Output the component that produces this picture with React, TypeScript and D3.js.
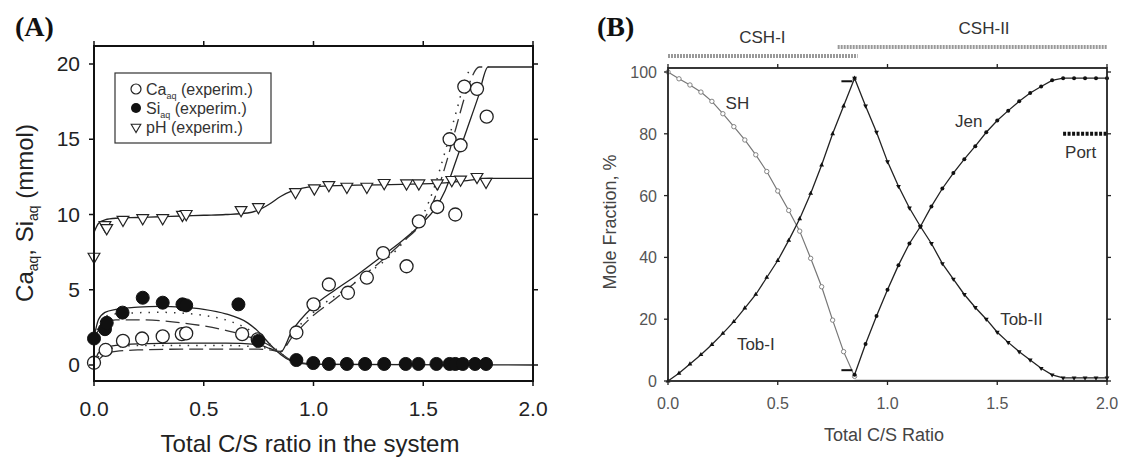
import React from "react";
import * as d3 from "d3";

// ---------------- Panel A data ----------------
const caX = [0, 0.053, 0.132, 0.219, 0.313, 0.40, 0.42, 0.675, 0.746, 0.922, 1.0, 1.07, 1.157, 1.243, 1.317, 1.424, 1.48, 1.564, 1.62, 1.646, 1.67, 1.687, 1.745, 1.789];
const caY = [0.15, 1.0, 1.6, 1.76, 1.9, 2.05, 2.1, 2.05, 1.7, 2.16, 4.03, 5.35, 4.8, 5.8, 7.44, 6.56, 9.54, 10.5, 15.0, 10.0, 14.6, 18.5, 18.35, 16.5];

const siX = [0, 0.05, 0.058, 0.13, 0.222, 0.313, 0.403, 0.42, 0.658, 0.749, 0.922, 0.999, 1.07, 1.152, 1.235, 1.322, 1.42, 1.478, 1.56, 1.62, 1.646, 1.68, 1.736, 1.786];
const siY = [1.76, 2.38, 2.8, 3.48, 4.47, 4.14, 4.03, 3.96, 4.03, 1.6, 0.33, 0.13, 0.07, 0.07, 0.07, 0.07, 0.07, 0.07, 0.07, 0.07, 0.07, 0.07, 0.07, 0.07];

const phX = [0, 0.05, 0.058, 0.132, 0.222, 0.313, 0.403, 0.42, 0.67, 0.749, 0.918, 1.004, 1.07, 1.152, 1.243, 1.322, 1.424, 1.48, 1.564, 1.63, 1.67, 1.745, 1.786];
const phY = [7.2, 9.3, 9.1, 9.65, 9.76, 9.76, 9.98, 10.04, 10.3, 10.5, 11.5, 11.74, 11.96, 11.85, 11.85, 12.1, 12.07, 12.07, 12.07, 12.3, 12.33, 12.5, 12.18];

// model curves (panel A)
const phModelX = [0, 0.02, 0.05, 0.1, 0.2, 0.3, 0.4, 0.5, 0.6, 0.7, 0.75, 0.8, 0.85, 0.9, 0.95, 1.0, 1.2, 1.4, 1.6, 1.7, 1.8, 2.0];
const phModelY = [8.8, 9.4, 9.65, 9.75, 9.8, 9.85, 9.9, 9.95, 10.0, 10.1, 10.3, 10.7, 11.2, 11.55, 11.75, 11.85, 11.95, 12.0, 12.1, 12.25, 12.4, 12.4];

const siSolidX = [0, 0.02, 0.05, 0.1, 0.2, 0.3, 0.4, 0.5, 0.6, 0.7, 0.75, 0.8, 0.85, 0.9, 0.95, 1.0, 2.0];
const siSolidY = [1.8, 3.0, 3.5, 3.7, 3.85, 3.9, 3.85, 3.7, 3.4, 2.8, 2.2, 1.4, 0.7, 0.25, 0.1, 0.05, 0.0];
const siDotX = [0, 0.05, 0.1, 0.3, 0.5, 0.6, 0.7, 0.8, 0.85, 0.9, 1.0];
const siDotY = [1.8, 3.2, 3.4, 3.5, 3.3, 3.0, 2.4, 1.4, 0.8, 0.3, 0.05];
const siDashX = [0, 0.05, 0.1, 0.2, 0.4, 0.6, 0.7, 0.8, 0.85, 0.9, 1.0];
const siDashY = [1.8, 2.8, 3.0, 3.0, 2.8, 2.3, 1.9, 1.3, 0.8, 0.3, 0.05];

const caSolidX = [0, 0.02, 0.05, 0.1, 0.2, 0.4, 0.6, 0.75, 0.8, 0.85, 0.9, 1.0, 1.1, 1.2, 1.3, 1.4, 1.5, 1.55, 1.6, 1.65, 1.7, 1.75, 1.795, 2.0];
const caSolidY = [0, 0.8, 1.1, 1.3, 1.4, 1.45, 1.45, 1.35, 1.1, 0.85, 2.2, 3.9, 5.0, 6.0, 7.1, 8.2, 9.5, 10.3, 11.6, 13.6, 15.7, 17.8, 19.8, 19.8];
const caDashX = [0, 0.05, 0.1, 0.2, 0.4, 0.6, 0.75, 0.8, 0.85, 0.9, 1.0, 1.1, 1.2, 1.3, 1.4, 1.5, 1.55, 1.6, 1.65, 1.7, 1.755, 1.8];
const caDashY = [0, 0.7, 0.9, 1.0, 1.05, 1.05, 1.05, 1.0, 0.9, 1.8, 3.3, 4.4, 5.6, 6.8, 8.1, 9.6, 11.0, 13.2, 15.8, 18.3, 19.8, 19.8];
const caDotX = [0, 0.05, 0.2, 0.6, 0.8, 0.85, 0.9, 1.0, 1.2, 1.4, 1.5, 1.55, 1.6, 1.65, 1.7, 1.725];
const caDotY = [0, 1.0, 1.3, 1.3, 1.1, 0.9, 2.0, 3.5, 5.6, 8.0, 10.0, 11.8, 14.2, 16.8, 19.3, 19.8];

const xTicksA = [0, 0.5, 1.0, 1.5, 2.0];
const yTicksA = [0, 5, 10, 15, 20];

// ---------------- Panel B data ----------------
const xLeft = [0, 0.05, 0.1, 0.15, 0.2, 0.25, 0.3, 0.35, 0.4, 0.45, 0.5, 0.55, 0.6, 0.65, 0.7, 0.75, 0.8, 0.85];
const shY = [100, 97.8, 95.8, 93.5, 90.5, 86.5, 82.3, 78.0, 73.2, 67.8, 61.5, 55.2, 48.5, 39.7, 30.5, 19.7, 9.5, 1.5];
const tobIY = [0, 2.5, 5.5, 8.5, 11.8, 15.4, 19.2, 23.6, 28, 33.5, 39, 45.5, 52.5, 60.7, 69.9, 80, 89, 98];
const xRight = [0.85, 0.9, 0.95, 1.0, 1.05, 1.1, 1.15, 1.2, 1.25, 1.3, 1.35, 1.4, 1.45, 1.5, 1.55, 1.6, 1.65, 1.7, 1.75, 1.8, 1.85, 1.9, 1.95, 2.0];
const tobIIY = [98, 89, 80.5, 71, 63, 56, 50, 44.5, 38, 33, 28, 23.8, 20, 15.8, 12.5, 9.5, 6.8, 4.1, 2, 1, 1, 1, 1, 1];
const jenY = [2, 12, 21, 29.5, 37.5, 44.5, 50, 56.5, 62.3, 67.3, 71.8, 76, 80.5, 84.3, 87.5, 90.5, 93.2, 95.3, 97.3, 98, 98, 98, 98, 98];
const portX = [1.8, 1.85, 1.9, 1.95, 2.0];
const portY = [80, 80, 80, 80, 80];
const xTicksB = [0, 0.5, 1.0, 1.5, 2.0];
const yTicksB = [0, 20, 40, 60, 80, 100];
const phaseNames = ["CSH-I", "CSH-II"];
const phaseStart = [0, 0.773];
const phaseEnd = [0.864, 2.0];
const phaseLevel = [105.2, 108.1];
const phaseLabelX = [0.43, 1.44];
const phaseLabelLevel = [109.5, 112.2];

const curveLabels = ["SH", "Jen", "Tob-I", "Tob-II", "Port"];
const curveLabelX = [0.316, 1.37, 0.40, 1.61, 1.88];
const curveLabelY = [90, 84, 12, 20, 74];

const FONT = "Liberation Sans, Arial, sans-serif";

function zip(xs: number[], ys: number[]): [number, number][] {
  return xs.map((x, i) => [x, ys[i]]);
}

export default function App() {
  // Panel A scales
  const xA = d3.scaleLinear().domain([0, 2]).range([94, 533]);
  const yA = d3.scaleLinear().domain([0, 20]).range([365, 64]);
  const A = { left: 94, right: 533, top: 46, bottom: 381 };
  const lineA = d3.line<[number, number]>().x((d) => xA(d[0])).y((d) => yA(d[1])).curve(d3.curveMonotoneX);

  // Panel B scales
  const xB = d3.scaleLinear().domain([0, 2]).range([668, 1107]);
  const yB = d3.scaleLinear().domain([0, 100]).range([381, 72]);
  const B = { left: 668, right: 1107, top: 68, bottom: 381 };
  const lineB = d3.line<[number, number]>().x((d) => xB(d[0])).y((d) => yB(d[1]));

  const triDown = d3.symbol().type(d3.symbolTriangle).size(60)();
  const triSmall = d3.symbol().type(d3.symbolTriangle).size(10)();

  return (
    <svg width={1126} height={462} style={{ position: "absolute", left: 0, top: 0, background: "#fff" }}>
      <rect x={0} y={0} width={1126} height={462} fill="#fff" />
      {/* ================= PANEL A ================= */}
      <text x={15} y={36} fontFamily="Liberation Serif, Times New Roman, serif" fontWeight="bold" fontSize={28} fill="#111">(A)</text>

      {/* model curves */}
      <path d={lineA(zip(phModelX, phModelY)) || ""} fill="none" stroke="#222" strokeWidth={1.3} />
      <path d={lineA(zip(siSolidX, siSolidY)) || ""} fill="none" stroke="#222" strokeWidth={1.3} />
      <path d={lineA(zip(siDotX, siDotY)) || ""} fill="none" stroke="#333" strokeWidth={1.5} strokeDasharray="1.5,7" />
      <path d={lineA(zip(siDashX, siDashY)) || ""} fill="none" stroke="#333" strokeWidth={1.3} strokeDasharray="14,6" />
      <path d={lineA(zip(caSolidX, caSolidY)) || ""} fill="none" stroke="#222" strokeWidth={1.3} />
      <path d={lineA(zip(caDashX, caDashY)) || ""} fill="none" stroke="#333" strokeWidth={1.3} strokeDasharray="14,6" />
      <path d={lineA(zip(caDotX, caDotY)) || ""} fill="none" stroke="#333" strokeWidth={1.5} strokeDasharray="1.5,7" />

      {/* experimental points */}
      {phX.map((x, i) => (
        <path key={"ph" + i} d={triDown || ""} transform={`translate(${xA(x)},${yA(phY[i])}) rotate(180)`} fill="#fff" stroke="#222" strokeWidth={1.2} />
      ))}
      {caX.map((x, i) => (
        <circle key={"ca" + i} cx={xA(x)} cy={yA(caY[i])} r={6.5} fill="#fff" stroke="#222" strokeWidth={1.3} />
      ))}
      {siX.map((x, i) => (
        <circle key={"si" + i} cx={xA(x)} cy={yA(siY[i])} r={6.5} fill="#111" stroke="#111" strokeWidth={1} />
      ))}

      {/* frame */}
      <rect x={A.left} y={A.top} width={A.right - A.left} height={A.bottom - A.top} fill="none" stroke="#111" strokeWidth={2} />
      {xTicksA.map((t, i) => (
        <g key={"xta" + i}>
          <line x1={xA(t)} x2={xA(t)} y1={A.bottom} y2={A.bottom + 5} stroke="#111" strokeWidth={1.5} />
          <line x1={xA(t)} x2={xA(t)} y1={A.top} y2={A.top - 5} stroke="#111" strokeWidth={1.5} />
          <text x={xA(t)} y={416} textAnchor="middle" fontFamily={FONT} fontSize={21} fill="#222">{t.toFixed(1)}</text>
        </g>
      ))}
      {yTicksA.map((t, i) => (
        <g key={"yta" + i}>
          <line x1={A.left} x2={A.left - 5} y1={yA(t)} y2={yA(t)} stroke="#111" strokeWidth={1.5} />
          <line x1={A.right} x2={A.right + 5} y1={yA(t)} y2={yA(t)} stroke="#111" strokeWidth={1.5} />
          <text x={80} y={yA(t) + 7} textAnchor="end" fontFamily={FONT} fontSize={21} fill="#222">{t}</text>
        </g>
      ))}
      <text x={310} y={452} textAnchor="middle" fontFamily={FONT} fontSize={24} fill="#222">Total C/S ratio in the system</text>
      <text transform="translate(33,213) rotate(-90)" textAnchor="middle" fontFamily={FONT} fontSize={24} fill="#222">
        Ca<tspan fontSize={14} dy={5}>aq</tspan><tspan dy={-5}>, Si</tspan><tspan fontSize={14} dy={5}>aq</tspan><tspan dy={-5}> (mmol)</tspan>
      </text>

      {/* legend */}
      <rect x={115} y={73} width={156} height={70} fill="#fff" stroke="#333" strokeWidth={1.2} />
      <circle cx={136} cy={89} r={5} fill="#fff" stroke="#222" strokeWidth={1.2} />
      <circle cx={136} cy={108} r={5} fill="#111" />
      <path d={d3.symbol().type(d3.symbolTriangle).size(40)() || ""} transform="translate(136,127) rotate(180)" fill="#fff" stroke="#222" strokeWidth={1.1} />
      <text x={146} y={95} fontFamily={FONT} fontSize={16} fill="#333">Ca<tspan fontSize={9} dy={4}>aq</tspan><tspan dy={-4}> (experim.)</tspan></text>
      <text x={146} y={114} fontFamily={FONT} fontSize={16} fill="#333">Si<tspan fontSize={9} dy={4}>aq</tspan><tspan dy={-4}> (experim.)</tspan></text>
      <text x={146} y={133} fontFamily={FONT} fontSize={16} fill="#333">pH (experim.)</text>

      {/* ================= PANEL B ================= */}
      <text x={597} y={36} fontFamily="Liberation Serif, Times New Roman, serif" fontWeight="bold" fontSize={28} fill="#111">(B)</text>

      {phaseNames.map((n, i) => (
        <g key={"ph" + n}>
          <line x1={xB(phaseStart[i])} x2={xB(phaseEnd[i])} y1={yB(phaseLevel[i])} y2={yB(phaseLevel[i])} stroke="#999" strokeWidth={4} strokeDasharray="2,1" />
          <text x={xB(phaseLabelX[i])} y={yB(phaseLabelLevel[i])} textAnchor="middle" fontFamily={FONT} fontSize={17} fill="#333">{n}</text>
        </g>
      ))}

      {/* curves */}
      <path d={lineB(zip(xLeft, shY)) || ""} fill="none" stroke="#777" strokeWidth={1.2} />
      <line x1={xB(0.85)} x2={xB(2)} y1={yB(0.3)} y2={yB(0.3)} stroke="#aaa" strokeWidth={1} />
      <path d={lineB(zip(xLeft, tobIY)) || ""} fill="none" stroke="#222" strokeWidth={1.3} />
      <path d={lineB(zip(xRight, tobIIY)) || ""} fill="none" stroke="#222" strokeWidth={1.3} />
      <path d={lineB(zip(xRight, jenY)) || ""} fill="none" stroke="#222" strokeWidth={1.3} />
      <path d={lineB(zip(portX, portY)) || ""} fill="none" stroke="#111" strokeWidth={4} strokeDasharray="3,1.5" />
      {/* small step stubs near 0.8 */}
      <line x1={xB(0.79)} x2={xB(0.84)} y1={yB(97)} y2={yB(97)} stroke="#111" strokeWidth={2} />
      <line x1={xB(0.79)} x2={xB(0.84)} y1={yB(3.5)} y2={yB(3.5)} stroke="#111" strokeWidth={2} />

      {xLeft.map((x, i) => (
        <circle key={"sh" + i} cx={xB(x)} cy={yB(shY[i])} r={2.2} fill="#fff" stroke="#777" strokeWidth={0.9} />
      ))}
      {xLeft.map((x, i) => (
        <path key={"t1" + i} d={triSmall || ""} transform={`translate(${xB(x)},${yB(tobIY[i])})`} fill="#111" />
      ))}
      {xRight.map((x, i) => (
        <path key={"t2" + i} d={triSmall || ""} transform={`translate(${xB(x)},${yB(tobIIY[i])}) rotate(180)`} fill="#111" />
      ))}
      {xRight.map((x, i) => (
        <circle key={"jn" + i} cx={xB(x)} cy={yB(jenY[i])} r={2} fill="#111" />
      ))}

      {/* frame */}
      <rect x={B.left} y={B.top} width={B.right - B.left} height={B.bottom - B.top} fill="none" stroke="#222" strokeWidth={1.8} />
      {xTicksB.map((t, i) => (
        <g key={"xtb" + i}>
          <line x1={xB(t)} x2={xB(t)} y1={B.bottom} y2={B.bottom + 4} stroke="#222" strokeWidth={1.3} />
          <line x1={xB(t)} x2={xB(t)} y1={B.top} y2={B.top - 4} stroke="#222" strokeWidth={1.3} />
          <text x={xB(t)} y={409} textAnchor="middle" fontFamily={FONT} fontSize={16} fill="#555">{t.toFixed(1)}</text>
        </g>
      ))}
      {yTicksB.map((t, i) => (
        <g key={"ytb" + i}>
          <line x1={B.left} x2={B.left - 4} y1={yB(t)} y2={yB(t)} stroke="#222" strokeWidth={1.3} />
          <line x1={B.right} x2={B.right + 4} y1={yB(t)} y2={yB(t)} stroke="#222" strokeWidth={1.3} />
          <text x={657} y={yB(t) + 6} textAnchor="end" fontFamily={FONT} fontSize={16} fill="#555">{t}</text>
        </g>
      ))}
      {curveLabels.map((l, i) => (
        <text key={"cl" + l} x={xB(curveLabelX[i])} y={yB(curveLabelY[i]) + 6} textAnchor="middle" fontFamily={FONT} fontSize={17} fill="#333">{l}</text>
      ))}
      <text x={884} y={441} textAnchor="middle" fontFamily={FONT} fontSize={18} fill="#444">Total C/S Ratio</text>
      <text transform="translate(616,222) rotate(-90)" textAnchor="middle" fontFamily={FONT} fontSize={18} fill="#444">Mole Fraction, %</text>
    </svg>
  );
}
